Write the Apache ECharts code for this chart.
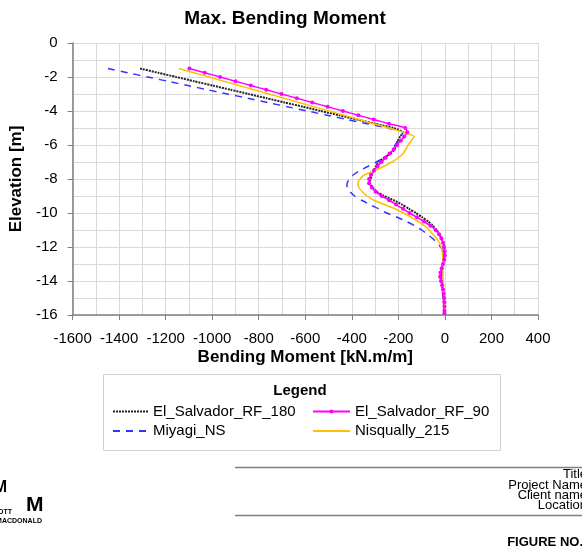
<!DOCTYPE html>
<html>
<head>
<meta charset="utf-8">
<script src="https://cdn.jsdelivr.net/npm/echarts@6/dist/echarts.min.js"></script>
<style>
  html, body { margin: 0; padding: 0; background: #fff; }
  #chart { width: 582px; height: 551px; }
</style>
</head>
<body>
<div id="chart"></div>
<script>
// elevation of the nodes [m]
const elevation = [-1.5, -1.75, -2, -2.25, -2.5, -2.75, -3, -3.25, -3.5, -3.75, -4, -4.25, -4.5, -4.75, -5, -5.25,
  -5.5, -5.75, -6, -6.25, -6.5, -6.75, -7, -7.25, -7.5, -7.75, -8, -8.25, -8.5, -8.75, -9, -9.25, -9.5, -9.75,
  -10, -10.25, -10.5, -10.75, -11, -11.25, -11.5, -11.75, -12, -12.25, -12.5, -12.75, -13, -13.25, -13.5, -13.75,
  -14, -14.25, -14.5, -14.75, -15, -15.25, -15.5, -15.75, -15.9]

// max bending moment [kN.m/m] per record
const elSalvador180 = [-1310, -1232, -1155, -1077, -999, -921, -844, -766, -688, -610, -533, -455, -377, -299, -222, -180,
  -192, -203, -210, -216, -232, -262, -285, -297, -306, -313, -320, -322, -310, -292, -262, -220, -185, -155,
  -125, -98, -72, -52, -36, -24, -14, -7, -3, -2, -3, -6, -9, -12, -14, -15,
  -14, -12, -10, -8, -6, -5, -4, -3, -3]
const elSalvador90 = [-1098, -1032, -966, -900, -834, -768, -702, -636, -570, -504, -438, -372, -306, -240, -170, -162,
  -175, -190, -205, -220, -238, -255, -272, -290, -305, -318, -326, -326, -314, -298, -272, -240, -210, -180,
  -152, -120, -90, -62, -40, -25, -15, -8, -4, -1, 0, -3, -8, -14, -19, -21,
  -17, -12, -8, -5, -3, -2, -2, -2, -2]
const miyagiNS = [-1448, -1362, -1277, -1191, -1105, -1020, -934, -848, -763, -677, -591, -506, -420, -334, -249, -180,
  -190, -200, -214, -225, -236, -262, -295, -330, -365, -393, -410, -420, -421, -408, -388, -358, -323, -285,
  -250, -205, -165, -130, -100, -76, -53, -34, -18, -8, -4, -5, -8, -11, -13, -14,
  -13, -11, -9, -7, -6, -5, -4, -3, -3]
const nisqually215 = [-1143, -1079, -1014, -950, -885, -821, -756, -692, -627, -563, -498, -434, -369, -305, -240, -176,
  -132, -145, -158, -168, -180, -200, -228, -262, -300, -345, -365, -374, -370, -355, -335, -305, -260, -215,
  -178, -145, -115, -88, -68, -52, -36, -24, -16, -12, -10, -8, -7, -8, -8, -8,
  -7, -6, -5, -4, -3, -2, -2, -1, -1]

const xTicks = { min: -1600, max: 400, step: 200 }
const yTicks = { min: -16, max: 0, step: 2 }

const pairs = (vals) => vals.map((v, i) => [v, elevation[i]])

const chart = echarts.init(document.getElementById('chart'))
const font = 'Liberation Sans, Arial, sans-serif'
const noSymbol = { opacity: 0 }

const option = {
  animation: false,
  textStyle: { fontFamily: font, color: '#000' },
  title: {
    text: 'Max. Bending Moment',
    left: 280,
    textAlign: 'center',
    top: 4,
    textStyle: { fontFamily: font, fontSize: 19, fontWeight: 'bold', color: '#000' }
  },
  grid: { left: 72, right: 44, top: 43, bottom: 236 },
  xAxis: {
    type: 'value',
    min: xTicks.min,
    max: xTicks.max,
    interval: xTicks.step,
    name: 'Bending Moment [kN.m/m]',
    nameLocation: 'middle',
    nameGap: 34,
    nameTextStyle: { fontFamily: font, fontSize: 17, fontWeight: 'bold', color: '#000' },
    axisLine: { onZero: false, lineStyle: { color: '#808080', width: 1.5 } },
    axisTick: { show: true, length: 5, lineStyle: { color: '#808080' } },
    axisLabel: { fontFamily: font, fontSize: 15, color: '#000', margin: 16, formatter: (v) => String(v) },
    splitLine: { lineStyle: { color: '#d9d9d9' } },
    minorTick: { show: false, splitNumber: 2 },
    minorSplitLine: { show: true, lineStyle: { color: '#d9d9d9' } }
  },
  yAxis: {
    type: 'value',
    min: yTicks.min,
    max: yTicks.max,
    interval: yTicks.step,
    name: 'Elevation [m]',
    nameLocation: 'middle',
    nameGap: 42,
    nameTextStyle: { fontFamily: font, fontSize: 17, fontWeight: 'bold', color: '#000' },
    axisLine: { onZero: false, lineStyle: { color: '#808080', width: 1.5 } },
    axisTick: { show: true, length: 5, lineStyle: { color: '#808080' } },
    axisLabel: { fontFamily: font, fontSize: 15, color: '#000', margin: 15 },
    splitLine: { lineStyle: { color: '#d9d9d9' } },
    minorTick: { show: false, splitNumber: 2 },
    minorSplitLine: { show: true, lineStyle: { color: '#d9d9d9' } }
  },
  legend: [
    {
      data: [
        { name: 'El_Salvador_RF_180', itemStyle: noSymbol },
        { name: 'Miyagi_NS', itemStyle: noSymbol }
      ],
      orient: 'vertical',
      left: 112,
      top: 404,
      padding: 0,
      itemWidth: 35,
      itemHeight: 5,
      itemGap: 4.5,
      textStyle: { fontFamily: font, fontSize: 15, color: '#000' }
    },
    {
      data: [
        { name: 'El_Salvador_RF_90' },
        { name: 'Nisqually_215', itemStyle: noSymbol }
      ],
      orient: 'vertical',
      left: 312,
      top: 404,
      padding: 0,
      itemWidth: 37,
      itemHeight: 5,
      itemGap: 4.5,
      textStyle: { fontFamily: font, fontSize: 15, color: '#000' }
    }
  ],
  series: [
    {
      name: 'El_Salvador_RF_180',
      type: 'line',
      data: pairs(elSalvador180),
      smooth: 0.2,
      symbol: 'none',
      lineStyle: { color: '#222', width: 2, type: [2, 1] },
      itemStyle: { color: '#222' }
    },
    {
      name: 'El_Salvador_RF_90',
      type: 'line',
      data: pairs(elSalvador90),
      smooth: 0.2,
      symbol: 'circle',
      symbolSize: 4,
      showAllSymbol: true,
      lineStyle: { color: '#ff00ff', width: 1.5 },
      itemStyle: { color: '#ff00ff' }
    },
    {
      name: 'Miyagi_NS',
      type: 'line',
      data: pairs(miyagiNS),
      smooth: 0.2,
      symbol: 'none',
      lineStyle: { color: '#3333ff', width: 1.5, type: [7, 6] },
      itemStyle: { color: '#3333ff' }
    },
    {
      name: 'Nisqually_215',
      type: 'line',
      data: pairs(nisqually215),
      smooth: 0.2,
      symbol: 'none',
      lineStyle: { color: '#ffc000', width: 1.5 },
      itemStyle: { color: '#ffc000' }
    }
  ],
  graphic: [
    // legend frame
    { type: 'rect', shape: { x: 103.5, y: 374.5, width: 397, height: 76 }, style: { fill: 'none', stroke: '#d0d0d0', lineWidth: 1 } },
    { type: 'text', x: 300, y: 391, style: { text: 'Legend', font: 'bold 15px ' + font, fill: '#000', align: 'center', verticalAlign: 'middle' } },
    // title block
    { type: 'line', shape: { x1: 235, y1: 467.5, x2: 582, y2: 467.5 }, style: { stroke: '#808080', lineWidth: 1.5 } },
    { type: 'line', shape: { x1: 235, y1: 515.5, x2: 582, y2: 515.5 }, style: { stroke: '#808080', lineWidth: 1.5 } },
    { type: 'text', x: 587, y: 474, style: { text: 'Title', font: '13px ' + font, fill: '#000', align: 'right', verticalAlign: 'middle' } },
    { type: 'text', x: 587, y: 485, style: { text: 'Project Name', font: '13px ' + font, fill: '#000', align: 'right', verticalAlign: 'middle' } },
    { type: 'text', x: 587, y: 495, style: { text: 'Client name', font: '13px ' + font, fill: '#000', align: 'right', verticalAlign: 'middle' } },
    { type: 'text', x: 587, y: 505, style: { text: 'Location', font: '13px ' + font, fill: '#000', align: 'right', verticalAlign: 'middle' } },
    { type: 'text', x: 583, y: 542, style: { text: 'FIGURE NO.', font: 'bold 13px ' + font, fill: '#000', align: 'right', verticalAlign: 'middle' } },
    // logo, cut at the left edge
    { type: 'text', x: 7, y: 488, style: { text: 'M', font: 'bold 16px ' + font, fill: '#000', align: 'right', verticalAlign: 'middle' } },
    { type: 'text', x: 26, y: 505, style: { text: 'M', font: 'bold 21px ' + font, fill: '#000', align: 'left', verticalAlign: 'middle' } },
    { type: 'text', x: 12, y: 512, style: { text: 'MOTT', font: 'bold 7px ' + font, fill: '#000', align: 'right', verticalAlign: 'middle' } },
    { type: 'text', x: 42, y: 521, style: { text: 'MACDONALD', font: 'bold 7px ' + font, fill: '#000', align: 'right', verticalAlign: 'middle' } }
  ]
}

chart.setOption(option)
</script>
</body>
</html>
